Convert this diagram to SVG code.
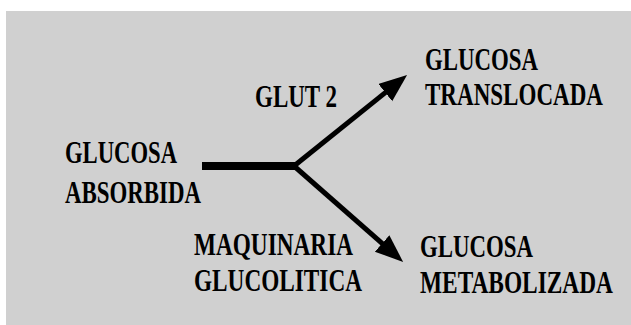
<svg xmlns="http://www.w3.org/2000/svg" width="631" height="325" viewBox="0 0 631 325">
  <style>
    .t { font-family: "Liberation Serif", "Times New Roman", serif; font-weight: bold; font-size: 31px; fill: #000; }
    .c { stroke: #000; fill: none; }
  </style>
  <defs>
    <marker id="arr" markerUnits="userSpaceOnUse" markerWidth="30" markerHeight="24" refX="8" refY="11" orient="auto">
      <path d="M0,0 L28,11 L0,22 z" fill="#000"/>
    </marker>
  </defs>
  <rect x="6" y="11" width="625" height="314" fill="#d0d0d0"/>
  <g id="connectors">
    <line class="c" x1="202" y1="166" x2="297" y2="166" stroke-width="8"/>
    <line class="c" x1="294" y1="166" x2="391.5" y2="87.6" stroke-width="5" marker-end="url(#arr)"/>
    <line class="c" x1="294" y1="166" x2="388.1" y2="248.7" stroke-width="5" marker-end="url(#arr)"/>
  </g>
  <g id="glucosa-absorbida">
    <text class="t" x="65" y="163" textLength="112" lengthAdjust="spacingAndGlyphs">GLUCOSA</text>
    <text class="t" x="65" y="203" textLength="136" lengthAdjust="spacingAndGlyphs">ABSORBIDA</text>
  </g>
  <g id="glut2">
    <text class="t" x="255" y="107" textLength="82" lengthAdjust="spacingAndGlyphs">GLUT 2</text>
  </g>
  <g id="glucosa-translocada">
    <text class="t" x="425" y="70" textLength="113" lengthAdjust="spacingAndGlyphs">GLUCOSA</text>
    <text class="t" x="425" y="105" textLength="178" lengthAdjust="spacingAndGlyphs">TRANSLOCADA</text>
  </g>
  <g id="maquinaria">
    <text class="t" x="194" y="255" textLength="159" lengthAdjust="spacingAndGlyphs">MAQUINARIA</text>
    <text class="t" x="194" y="291" textLength="168" lengthAdjust="spacingAndGlyphs">GLUCOLITICA</text>
  </g>
  <g id="glucosa-metabolizada">
    <text class="t" x="420" y="257" textLength="113" lengthAdjust="spacingAndGlyphs">GLUCOSA</text>
    <text class="t" x="420" y="293" textLength="193" lengthAdjust="spacingAndGlyphs">METABOLIZADA</text>
  </g>
</svg>
